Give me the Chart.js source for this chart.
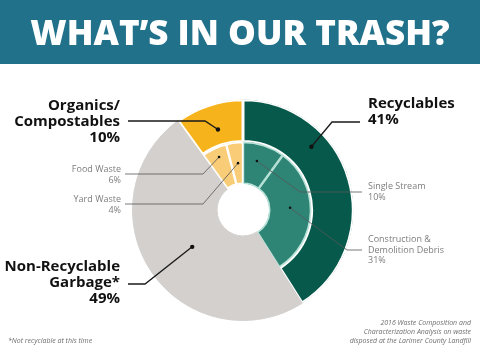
<!DOCTYPE html>
<html lang="en">
<head>
    <meta charset="UTF-8">
    <script src="https://cdn.jsdelivr.net/npm/chart.js"></script>
    <title>What's in our trash?</title>
    <style>
        body { margin: 0; background: #fff; }
        #trashChart { display: block; }
    </style>
</head>
<body>
    <canvas id="trashChart" width="480" height="352"></canvas>
    <script>
        // outer ring: main groups
        const groups = ['Recyclables', 'Non-Recyclable Garbage*', 'Organics/Compostables'];
        const groupValues = [41, 49, 10];
        const groupColors = ['#075a4b', '#d3d0ce', '#f6b31b'];

        // inner ring: sub categories
        const subCategories = ['Single Stream', 'Construction & Demolition Debris', 'Non-Recyclable Garbage*', 'Food Waste', 'Yard Waste'];
        const subValues = [10, 31, 49, 6, 4];
        const subColors = ['#2e8576', '#2e8576', '#d3d0ce', '#f9cd78', '#f9cd78'];

        const GRAY = '#d3d0ce';

        // callout labels (ds 0 = outer ring, ds 1 = inner ring)
        const callouts = [
            { ds: 0, i: 0, t: 0.32, u: 0.59, lines: ['Recyclables'], big: true, align: 'left', x: 368, y: 108, lineY: 122, elbowX: 332 },
            { ds: 0, i: 2, t: 0.52, u: 0.38, lines: ['Organics/', 'Compostables'], big: true, align: 'right', x: 120, y: 110, lineY: 121, elbowX: 205 },
            { ds: 1, i: 2, t: 0.49, u: 0.87, lines: ['Non-Recyclable', 'Garbage*'], big: true, align: 'right', x: 120, y: 271, lineY: 284, elbowX: 145 },
            { ds: 1, i: 0, t: 0.44, u: 0.59, lines: ['Single Stream'], big: false, align: 'left', x: 368, y: 189, lineY: 192, elbowX: 300 },
            { ds: 1, i: 1, t: 0.46, u: 0.5, lines: ['Construction &', 'Demolition Debris'], big: false, align: 'left', x: 368, y: 242, lineY: 250, elbowX: 347 },
            { ds: 1, i: 3, t: 0.54, u: 0.76, lines: ['Food Waste'], big: false, align: 'right', x: 121, y: 172, lineY: 174, elbowX: 203 },
            { ds: 1, i: 4, t: 0.58, u: 0.5, lines: ['Yard Waste'], big: false, align: 'right', x: 121, y: 202, lineY: 204, elbowX: 203 }
        ];

        function anchorPoint(chart, ds, idx, t, u) {
            const arc = chart.getDatasetMeta(ds).data[idx];
            const p = arc.getProps(['x', 'y', 'startAngle', 'endAngle', 'innerRadius', 'outerRadius'], true);
            const ang = p.startAngle + (p.endAngle - p.startAngle) * t;
            const r = p.innerRadius + (p.outerRadius - p.innerRadius) * u;
            return { x: p.x + Math.cos(ang) * r, y: p.y + Math.sin(ang) * r };
        }

        const infographic = {
            id: 'infographic',
            beforeDraw(chart) {
                const ctx = chart.ctx;
                ctx.save();
                ctx.fillStyle = '#21718a';
                ctx.fillRect(0, 0, chart.width, 64);
                ctx.restore();
            },
            afterDraw(chart) {
                const ctx = chart.ctx;
                ctx.save();

                // header
                ctx.fillStyle = '#fff';
                ctx.font = '800 35px "Open Sans"';
                ctx.textAlign = 'center';
                ctx.textBaseline = 'alphabetic';
                ctx.fillText('WHAT\u2019S IN OUR TRASH?', 240, 45);

                callouts.forEach(c => {
                    const values = c.ds === 0 ? groupValues : subValues;
                    const a = anchorPoint(chart, c.ds, c.i, c.t, c.u);
                    const startX = c.align === 'right' ? c.x + (c.big ? 8 : 4) : c.x - (c.big ? 8 : 6);

                    // leader line
                    ctx.strokeStyle = c.big ? '#1a1a1a' : '#555';
                    ctx.lineWidth = c.big ? 1.3 : 0.8;
                    ctx.beginPath();
                    ctx.moveTo(startX, c.lineY);
                    ctx.lineTo(c.elbowX, c.lineY);
                    ctx.lineTo(a.x, a.y);
                    ctx.stroke();

                    ctx.fillStyle = '#111';
                    ctx.beginPath();
                    ctx.arc(a.x, a.y, c.big ? 2.2 : 1.3, 0, Math.PI * 2);
                    ctx.fill();

                    // text
                    const lines = c.lines.concat([values[c.i] + '%']);
                    ctx.textAlign = c.align;
                    if (c.big) {
                        ctx.font = 'bold 15px "Open Sans"';
                        ctx.fillStyle = '#111';
                    } else {
                        ctx.font = '9px "Open Sans"';
                        ctx.fillStyle = '#7d7d7d';
                    }
                    const step = c.big ? 16 : 10.5;
                    lines.forEach((l, k) => ctx.fillText(l, c.x, c.y + k * step));
                });

                // footnotes
                ctx.font = 'italic 7px "Open Sans"';
                ctx.fillStyle = '#6e6e6e';
                ctx.textAlign = 'left';
                ctx.fillText('*Not recyclable at this time', 8, 343);
                ctx.textAlign = 'right';
                ['2016 Waste Composition and', 'Characterization Analysis on waste', 'disposed at the Larimer County Landfill']
                    .forEach((l, k) => ctx.fillText(l, 471, 325 + k * 9));

                ctx.restore();
            }
        };

        // gray slices get a same-colour stroke so the two rings merge without a seam
        const borderFor = (colors, light) => colors.map(c => c === GRAY ? GRAY : light(c));

        const ctx = document.getElementById('trashChart').getContext('2d');
        const trashChart = new Chart(ctx, {
            type: 'doughnut',
            data: {
                labels: subCategories,
                datasets: [{
                    label: 'Groups',
                    data: groupValues,
                    backgroundColor: groupColors,
                    borderColor: borderFor(groupColors, () => '#fff'),
                    borderAlign: groupColors.map(c => c === GRAY ? 'center' : 'inner'),
                    borderWidth: groupColors.map(c => c === GRAY ? 1 : 1.5)
                }, {
                    label: 'Sub categories',
                    data: subValues,
                    backgroundColor: subColors,
                    borderColor: borderFor(subColors, c => c === '#2e8576' ? '#b9e3d8' : '#fff'),
                    borderAlign: subColors.map(c => c === GRAY ? 'center' : 'inner'),
                    borderWidth: subColors.map(c => c === GRAY ? 1 : 1.2)
                }]
            },
            options: {
                responsive: false,
                animation: false,
                cutout: '23.5%',
                layout: {
                    padding: { left: 132, right: 126, top: 99, bottom: 31 }
                },
                plugins: {
                    legend: { display: false },
                    tooltip: { enabled: false }
                }
            },
            plugins: [infographic]
        });
    </script>
</body>
</html>
